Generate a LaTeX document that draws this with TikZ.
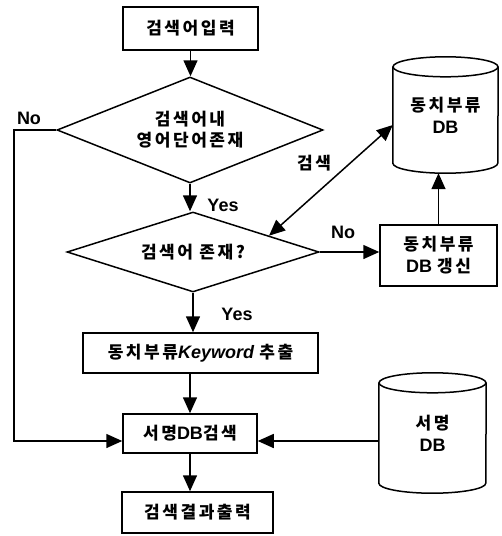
\documentclass[tikz,border=0pt]{standalone}
\usepackage{fontspec}
\setmainfont{Liberation Sans}
\newfontfamily\krfont{Noto Sans CJK KR}[LetterSpace=15]
\newcommand\K[1]{{\krfont\fontsize{17}{22}\selectfont #1}}
\usetikzlibrary{shapes.geometric,arrows.meta,calc}
\newcommand\drawcylinder[3]{%
  \draw[line width=1.5pt] ([yshift=-#3]#1.north west) -- ([yshift=#3]#1.south west)
    arc[start angle=180,end angle=360,x radius=#2,y radius=#3] -- ([yshift=-#3]#1.north east);
  \draw[line width=1.5pt] ([yshift=-#3]#1.north) ellipse[x radius=#2,y radius=#3];
}
\begin{document}
\begin{tikzpicture}[x=1pt,y=-1pt,
  every node/.style={font=\fontsize{18}{22}\selectfont\bfseries},
  box/.style={draw, line width=1.5pt, rectangle, inner sep=0pt, align=center},
  dia/.style={draw, line width=1.5pt, diamond, inner sep=0pt, aspect=2.5, align=center},
  dbnode/.style={inner sep=0pt, align=center},
  arr/.style={line width=1.5pt, -{Triangle[length=16pt,width=14pt]}},
  darr/.style={line width=1.5pt, {Triangle[length=16pt,width=14pt]}-{Triangle[length=16pt,width=14pt]}},
  lbl/.style={inner sep=0pt},
]
\useasboundingbox (0,0) rectangle (502,536);
% main column
\node[box, minimum width=135pt, minimum height=43pt] (in) at (190.5,28.5) {\K{검색어입력}};
\node[dia, minimum width=266pt, minimum height=106pt] (d1) at (190,130) {\K{검색어내}\\[-1pt]\K{영어단어존재}};
\node[dia, minimum width=252pt, minimum height=80pt] (d2) at (193,252) {\K{검색어 존재?}};
\node[box, minimum width=235pt, minimum height=40pt] (kw) at (200.5,353) {\K{동치부류}\textit{Keyword} \K{추출}};
\node[box, minimum width=134pt, minimum height=39pt] (sdb) at (190,433.5) {\K{서명}DB\K{검색}};
\node[box, minimum width=151pt, minimum height=41pt] (out) at (197.5,512.5) {\K{검색결과출력}};
% right column
\node[dbnode, minimum width=105pt, minimum height=116pt] (db1) at (445.5,115) {\K{동치부류}\\DB};
\drawcylinder{db1}{52.5pt}{10pt}
\node[box, minimum width=117pt, minimum height=61pt] (upd) at (438.5,255.5) {\K{동치부류}\\DB \K{갱신}};
\node[dbnode, minimum width=107pt, minimum height=120pt] (db2) at (432.5,433) {\K{서명}\\DB};
\drawcylinder{db2}{53.5pt}{10pt}
% helper coordinates
\coordinate (ly) at (0,441);
\coordinate (lx) at (14,0);
% connectors
\draw[arr] (in.south) -- (in.south |- d1.north);
\draw[arr] (d1.south) -- (d1.south |- d2.north);
\draw[arr] (d2.south) -- (d2.south |- kw.north);
\draw[arr] (kw.south -| sdb.north) -- (sdb.north);
\draw[arr] (sdb.south) -- (sdb.south |- out.north);
\draw[arr] (d1.west) -- (d1.west -| lx) |- (sdb.west |- ly);
\draw[arr] (db2.west |- ly) -- (sdb.east |- ly);
\draw[arr] (d2.east) -- (d2.east -| upd.west);
\draw[arr] (upd.north) -- (upd.north |- db1.south);
\draw[darr] ($(d2.north)!0.6!(d2.east)$) -- ([yshift=-10pt]db1.west);
% labels
\node[lbl] (lno1) at (29,118) {No};
\node[lbl] (lyes1) at (223,205) {Yes};
\node[lbl] (lsrch) at (314,163) {\K{검색}};
\node[lbl] (lno2) at (343,232) {No};
\node[lbl] (lyes2) at (237,314) {Yes};
\end{tikzpicture}
\end{document}
